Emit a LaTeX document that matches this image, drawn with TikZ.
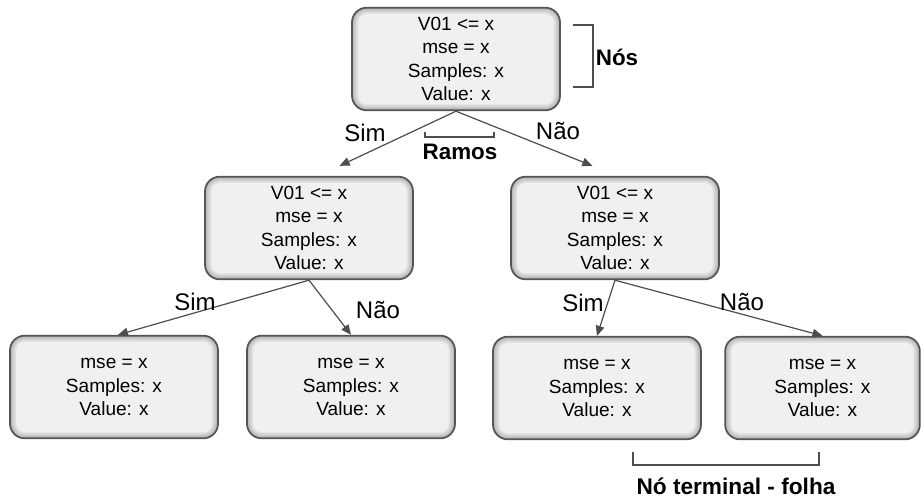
\documentclass[tikz,border=0pt]{standalone}
\usepackage{fontspec}
\setmainfont{Liberation Sans}
\usepackage{tikz}
\usetikzlibrary{arrows.meta,positioning,calc}
\definecolor{clLine}{HTML}{4D4D4D}
\definecolor{clBorder}{HTML}{555555}
\tikzset{
  treenode/.style={rectangle, rounded corners=11pt, draw=clBorder, line width=1.3pt,
              align=center, minimum width=156pt, minimum height=77pt, inner sep=2pt,
              font=\fontsize{14.3}{17.4}\selectfont, fill=black!30,
              path picture={
                \foreach \k [evaluate=\k as \c using int(30-4*\k),
                             evaluate=\k as \r using 11-0.8*\k] in {1,...,6}{
                  \fill[black!\c, rounded corners=\r pt]
                    ([shift={(\k*0.8pt,\k*0.8pt)}]path picture bounding box.south west)
                    rectangle ([shift={(-\k*0.8pt,-\k*0.8pt)}]path picture bounding box.north east);
                }
              }},
  branch/.style={-{Triangle[length=7.5pt,width=6.5pt]}, line width=0.9pt, draw=clLine},
  branchlabel/.style={font=\fontsize{18}{20}\selectfont, inner sep=0pt},
  tag/.style={font=\fontsize{16.8}{20}\selectfont\bfseries, inner sep=0pt},
  bracket/.style={line width=0.8pt, draw=clLine},
}
\begin{document}
\begin{tikzpicture}[x=0.75pt, y=-0.75pt]
  \useasboundingbox (0,0) rectangle (921,497);
  % nodes
  \node[treenode] (root) at (456,59) {V01 <= x\\mse = x\\Samples: x\\Value: x};
  \node[treenode] (midL) at (309,228) {V01 <= x\\mse = x\\Samples: x\\Value: x};
  \node[treenode] (midR) at (615,228) {V01 <= x\\mse = x\\Samples: x\\Value: x};
  \node[treenode] (leafA) at (114,387) {mse = x\\Samples: x\\Value: x};
  \node[treenode] (leafB) at (351,387) {mse = x\\Samples: x\\Value: x};
  \node[treenode] (leafC) at (597,388) {mse = x\\Samples: x\\Value: x};
  \node[treenode, minimum width=146pt] (leafD) at (822.5,388) {mse = x\\Samples: x\\Value: x};
  % branches
  \draw[branch] (root.south) -- ([xshift=23pt,yshift=7.5pt]midL.north);
  \draw[branch] (root.south) -- ([xshift=-17pt,yshift=7.5pt]midR.north);
  \draw[branch] (midL.south) -- ([xshift=3pt]leafA.north);
  \draw[branch] (midL.south) -- (leafB.north);
  \draw[branch] (midR.south) -- (leafC.north);
  \draw[branch] (midR.south) -- (leafD.north);
  % labels
  \node[branchlabel] (rootSim) at (365,133) {Sim};
  \node[branchlabel] (rootNao) at (558,131) {Não};
  \node[branchlabel] (midLSim) at (195,302) {Sim};
  \node[branchlabel] (midLNao) at (378,310) {Não};
  \node[branchlabel] (midRSim) at (583,303) {Sim};
  \node[branchlabel] (midRNao) at (742,302) {Não};
  \node[tag] (ramos) at (460,152) {Ramos};
  \node[tag] (nos) at (617,57) {Nós};
  \node[tag, font=\fontsize{17}{20}\selectfont\bfseries] (folha) at (736,486) {Nó terminal - folha};
  % brackets
  \draw[bracket] (425,132) -- (425,137) -- (494,137) -- (494,132);
  \draw[bracket] (573,25) -- (593,25) -- (593,87) -- (573,87);
  \draw[bracket] (633,452) -- (633,465) -- (819,465) -- (819,452);
\end{tikzpicture}
\end{document}
